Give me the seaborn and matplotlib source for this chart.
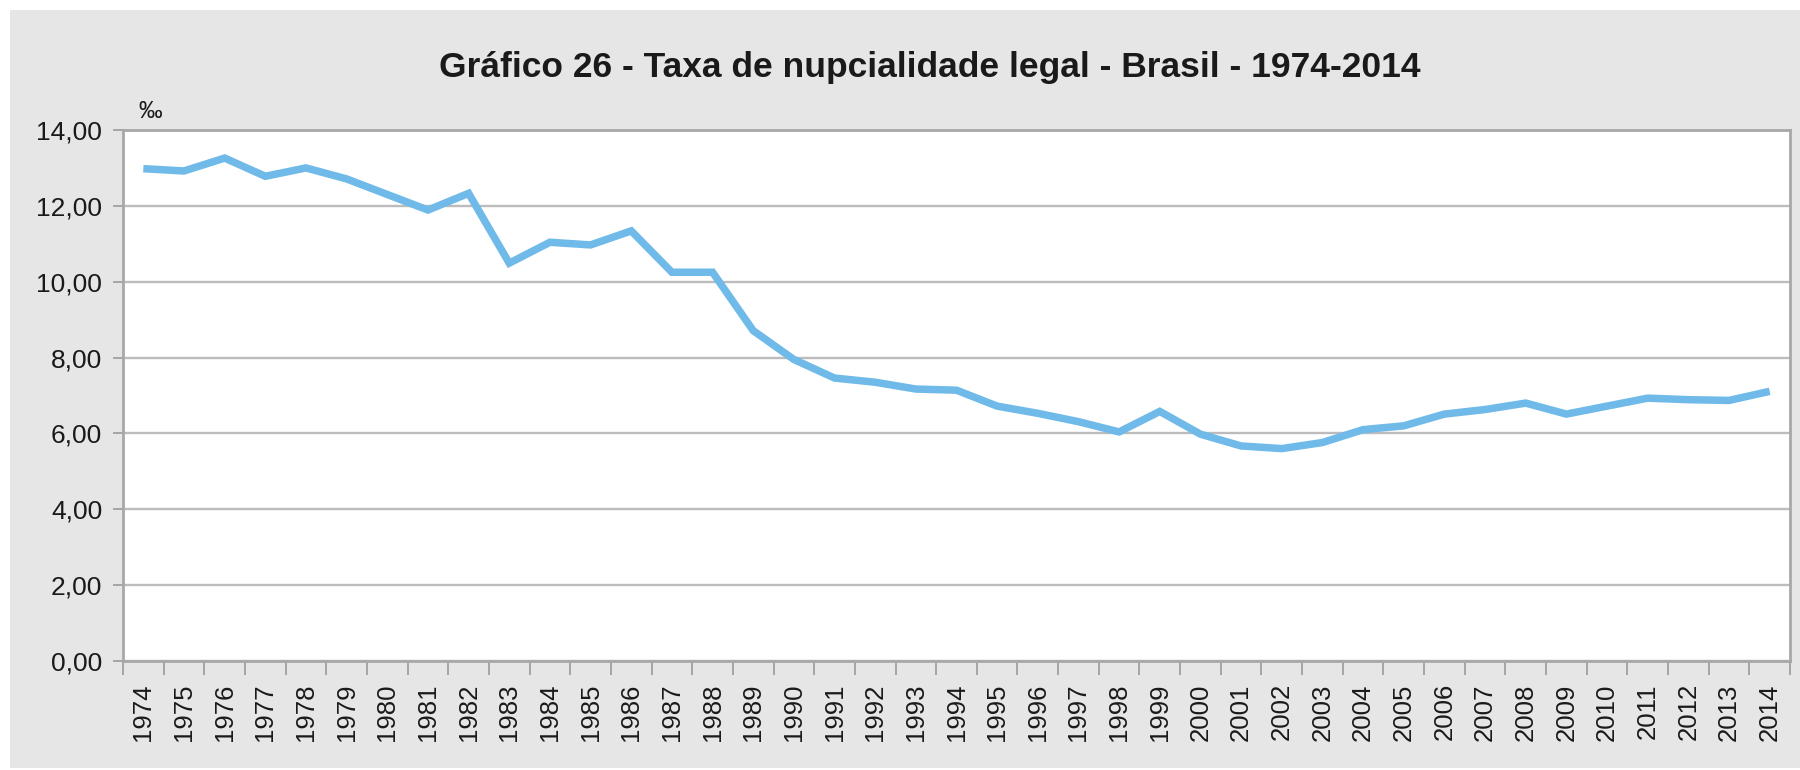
import matplotlib
matplotlib.use("Agg")
import matplotlib.pyplot as plt
from matplotlib.patches import Rectangle
from matplotlib.ticker import FixedLocator, FixedFormatter
import numpy as np
import pandas as pd
import seaborn as sns

# ---- data ----
years = [str(y) for y in range(1974, 2015)]
taxa = [12.98, 12.92, 13.26, 12.78, 13.00, 12.71, 12.30, 11.89, 12.33, 10.49,
        11.04, 10.97, 11.34, 10.25, 10.25, 8.71, 7.95, 7.46, 7.35, 7.17,
        7.14, 6.72, 6.53, 6.31, 6.04, 6.58, 5.98, 5.67, 5.60, 5.76,
        6.10, 6.20, 6.51, 6.63, 6.80, 6.51, 6.72, 6.93, 6.89, 6.87, 7.11]
y_ticks = [0, 2, 4, 6, 8, 10, 12, 14]
y_tick_labels = ["0,00", "2,00", "4,00", "6,00", "8,00", "10,00", "12,00", "14,00"]
title = "Gráfico 26 - Taxa de nupcialidade legal - Brasil - 1974-2014"
unit_label = "‰"

df = pd.DataFrame({"pos": np.arange(len(years)), "taxa": taxa})

sns.set_theme(style="white")
plt.rcParams["font.family"] = ["Liberation Sans", "DejaVu Sans"]

W, H = 1800, 770
fig = plt.figure(figsize=(W / 100, H / 100), dpi=100)
fig.patch.set_facecolor("white")
bg = Rectangle((10 / W, 2 / H), 1 - 10 / W, 1 - 12 / H,
               transform=fig.transFigure, facecolor="#e6e6e6",
               edgecolor="none", zorder=-10)
fig.patches.append(bg)

left, right, top, bottom = 123, 1790, 130, 661
ax = fig.add_axes([left / W, 1 - bottom / H, (right - left) / W, (bottom - top) / H])
ax.set_zorder(1)
ax.set_facecolor("white")

sns.lineplot(data=df, x="pos", y="taxa", ax=ax, color="#6fbae8", linewidth=5.4,
             solid_joinstyle="miter", solid_capstyle="butt")

n = len(years)
ax.set_xlim(-0.5, n - 0.5)
ax.set_ylim(0, 14)

ax.yaxis.set_major_locator(FixedLocator(y_ticks))
ax.yaxis.set_major_formatter(FixedFormatter(y_tick_labels))
ax.grid(axis="y", color="#bcbcbc", linewidth=1.7)
ax.grid(axis="x", visible=False)
ax.set_axisbelow(True)

ax.xaxis.set_major_locator(FixedLocator(np.arange(-0.5, n, 1.0)))
ax.xaxis.set_major_formatter(FixedFormatter([""] * (n + 1)))
ax.xaxis.set_minor_locator(FixedLocator(np.arange(n)))
ax.xaxis.set_minor_formatter(FixedFormatter(years))

ax.tick_params(axis="x", which="major", length=10, width=1.3, color="#a0a0a0",
               direction="out", bottom=True)
ax.tick_params(axis="x", which="minor", length=0, pad=16, labelsize=18.5,
               labelrotation=90, labelcolor="#1a1a1a", bottom=True)
ax.tick_params(axis="y", which="major", length=7, width=1.3, color="#a0a0a0",
               direction="out", left=True, pad=8, labelsize=19,
               labelcolor="#1a1a1a")

for s in ["left", "bottom", "top", "right"]:
    ax.spines[s].set_visible(True)
    ax.spines[s].set_color("#a8a8a8")
    ax.spines[s].set_linewidth(2.0)

ax.set_xlabel("")
ax.set_ylabel("")

fig.text(930 / W, 1 - 67 / H, title, ha="center", va="center",
         fontsize=25.5, fontweight="bold", color="#1a1a1a")
fig.text(138 / W, 1 - 118 / H, unit_label, ha="left", va="baseline",
         fontsize=17, color="#1a1a1a")

fig.savefig("out.png", dpi=100, facecolor=fig.get_facecolor())
